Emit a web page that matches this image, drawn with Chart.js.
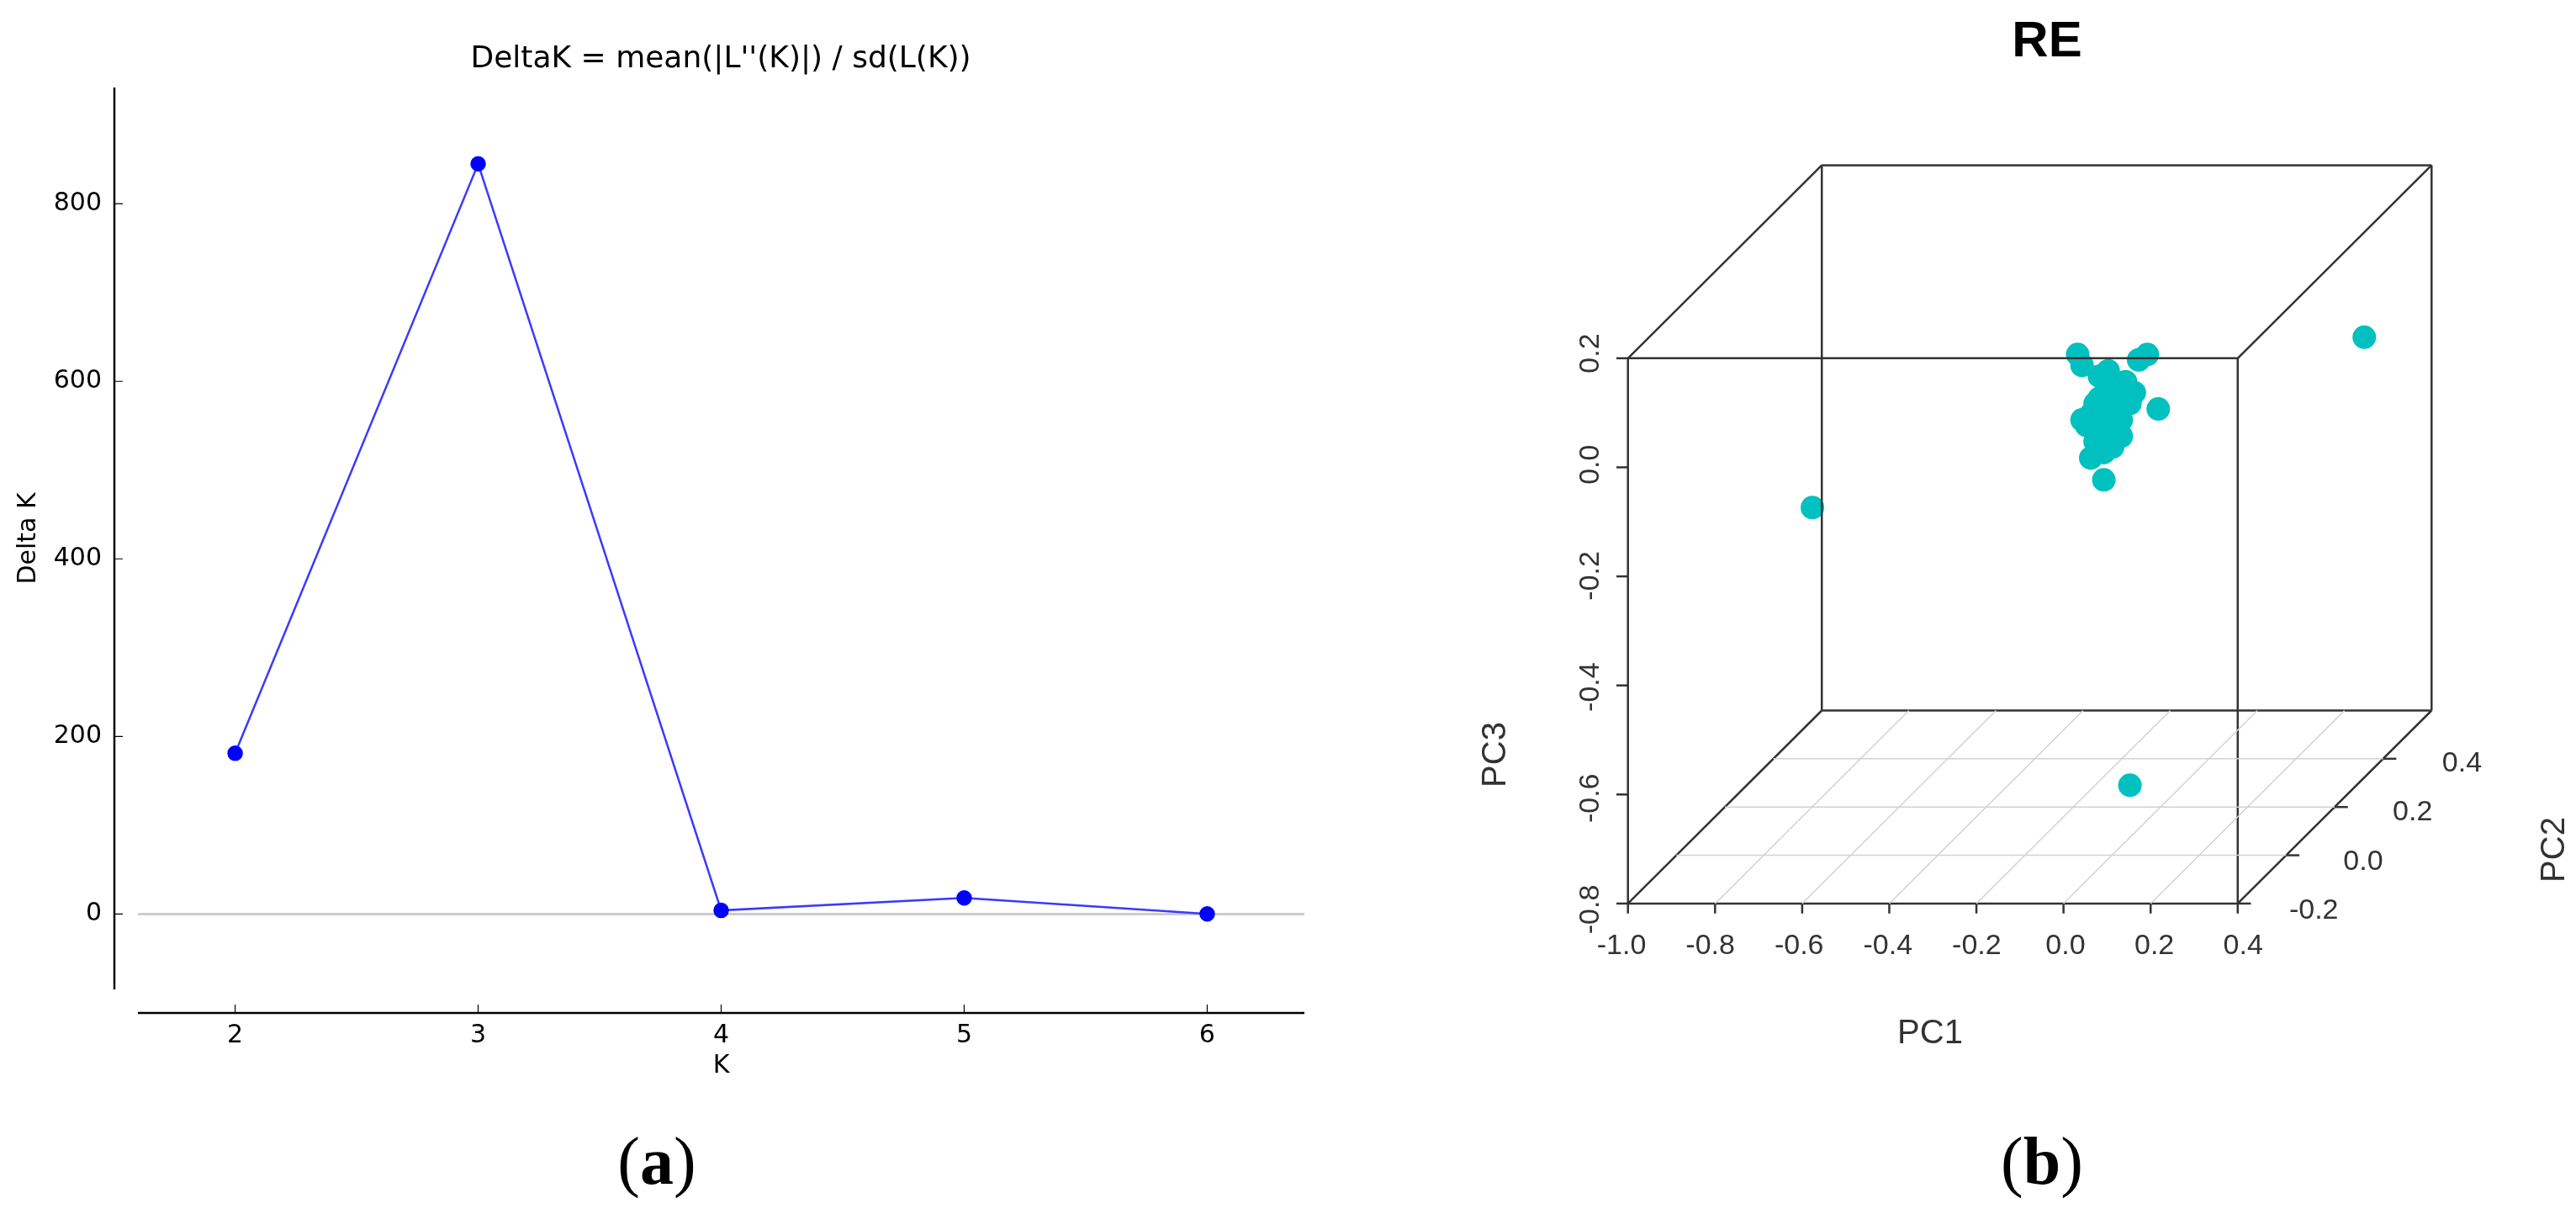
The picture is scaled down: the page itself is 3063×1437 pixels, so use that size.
<!DOCTYPE html>
<html>
<head>
<meta charset="utf-8">
<script src="https://cdn.jsdelivr.net/npm/chart.js@4.4.0/dist/chart.umd.min.js"></script>
<style>
  body { margin: 0; background: #fff; width: 3063px; height: 1437px; position: relative; overflow: hidden; }
  .box { position: absolute; }
  .cap { position: absolute; top: 1335px; width: 200px; text-align: center; line-height: 90px;
         font-family: "Liberation Serif", serif; font-size: 80px; }
</style>
</head>
<body>
<div class="box" style="left:0;top:0;width:1600px;height:1437px"><canvas id="deltaK"></canvas></div>
<div class="box" style="left:1600px;top:0;width:1463px;height:1437px"><canvas id="pca"></canvas></div>
<div class="cap" style="left:681px">(<b>a</b>)</div>
<div class="cap" style="left:2328px">(<b>b</b>)</div>
<script>
// ---- panel (a): Delta K ----
const kValues = [2, 3, 4, 5, 6];
const deltaK = [181, 845, 4, 18, 0];
const yTicks = [0, 200, 400, 600, 800];

// ---- panel (b): PCA, RE ----
const pc1 = [-0.71, 0.29, -0.07, -0.19, -0.18, -0.03, -0.05, -0.005, -0.13, -0.16, -0.12,
  -0.15, -0.10, -0.08, -0.13, -0.17, -0.11, -0.14, -0.09, -0.12, -0.16, -0.10, -0.13,
  -0.07, -0.15, -0.11, -0.18, -0.09, -0.14, -0.12, -0.06, -0.10];
const pc2 = [0.04, 0.52, 0.20, 0.20, 0.20, 0.20, 0.20, 0.20, 0.20, 0.20, 0.20,
  0.20, 0.20, 0.20, 0.20, 0.20, 0.20, 0.20, 0.20, 0.20, 0.20, 0.20, 0.20,
  0.20, 0.20, 0.20, 0.20, 0.20, 0.20, 0.20, 0.20, 0.20];
const pc3 = [-0.18, -0.08, -0.76, 0.03, 0.01, 0.03, 0.02, -0.07, -0.20, -0.16, -0.08,
  -0.06, -0.04, -0.02, -0.12, -0.10, -0.14, -0.05, -0.09, 0.00, -0.08, -0.11, -0.15,
  -0.06, -0.13, -0.03, -0.09, -0.12, -0.01, -0.10, -0.04, -0.07];
const pc1Ticks = [-1.0, -0.8, -0.6, -0.4, -0.2, 0.0, 0.2, 0.4];
const pc2Ticks = [-0.2, 0.0, 0.2, 0.4];
const pc3Ticks = [-0.8, -0.6, -0.4, -0.2, 0.0, 0.2];
const pc1Range = [-1.0, 0.4], pc2Range = [-0.2, 0.6], pc3Range = [-0.8, 0.2];

const FONT = '"DejaVu Sans", sans-serif';

// spines offset from the plot area (matplotlib style), title and axis names
const spines = {
  id: 'spines',
  afterDraw(chart) {
    const { ctx, chartArea: a, scales } = chart;
    const sy = a.left - 28, sx = a.bottom + 28;
    ctx.save();
    ctx.strokeStyle = '#000';
    ctx.lineWidth = 2.5;
    ctx.beginPath();
    ctx.moveTo(sy, a.top); ctx.lineTo(sy, a.bottom);
    ctx.moveTo(a.left, sx); ctx.lineTo(a.right, sx);
    ctx.stroke();
    ctx.lineWidth = 1.2;
    ctx.beginPath();
    kValues.forEach(k => { const x = scales.x.getPixelForValue(k); ctx.moveTo(x, sx); ctx.lineTo(x, sx - 10); });
    yTicks.forEach(v => { const y = scales.y.getPixelForValue(v); ctx.moveTo(sy, y); ctx.lineTo(sy + 10, y); });
    ctx.stroke();
    ctx.fillStyle = '#000';
    ctx.textAlign = 'center'; ctx.textBaseline = 'middle';
    ctx.font = '36px ' + FONT;
    ctx.fillText("DeltaK = mean(|L''(K)|) / sd(L(K))", 857, 71);
    ctx.font = '30px ' + FONT;
    ctx.fillText('K', scales.x.getPixelForValue(4), 1267);
    ctx.save(); ctx.translate(34, 640); ctx.rotate(-Math.PI / 2); ctx.fillText('Delta K', 0, 0); ctx.restore();
    ctx.restore();
  }
};

new Chart(document.getElementById('deltaK'), {
  type: 'line',
  data: {
    datasets: [{
      data: kValues.map((k, i) => ({ x: k, y: deltaK[i] })),
      borderColor: '#3a3aff',
      borderWidth: 2.5,
      pointBackgroundColor: '#0000ff',
      pointBorderColor: '#0000ff',
      pointRadius: 8,
      tension: 0
    }]
  },
  options: {
    responsive: true, maintainAspectRatio: false, animation: false,
    layout: { padding: { left: 0, right: 49, top: 104, bottom: 0 } },
    plugins: { legend: { display: false }, tooltip: { enabled: false } },
    scales: {
      x: {
        type: 'linear', min: 1.6, max: 6.4,
        afterBuildTicks: s => { s.ticks = kValues.map(v => ({ value: v })); },
        afterFit: s => { s.height = 261; },
        grid: { display: false, drawTicks: false }, border: { display: false },
        ticks: { font: { family: 'DejaVu Sans', size: 30 }, color: '#000', padding: 37 }
      },
      y: {
        min: -85, max: 931,
        afterBuildTicks: s => { s.ticks = yTicks.map(v => ({ value: v })); },
        afterFit: s => { s.width = 164; },
        grid: { color: c => c.tick.value === 0 ? '#cccccc' : 'transparent', lineWidth: 3, drawTicks: false },
        border: { display: false },
        ticks: { font: { family: 'DejaVu Sans', size: 30 }, color: '#000', padding: 43 }
      }
    }
  },
  plugins: [spines]
});

// ---- simple oblique projection for panel (b), canvas pixel coordinates ----
const P = { x0: 328, y0: 1081, sx: 528, sz: 661, dx: 235, dy: 234 };
function proj(a, b, c) {
  const f = (b - pc2Range[0]) / (pc2Range[1] - pc2Range[0]);
  return {
    x: P.x0 + (a - pc1Range[0]) * P.sx + f * P.dx,
    y: P.y0 - (c - pc3Range[0]) * P.sz - f * P.dy
  };
}
const seg = (p, q, color, w) => ({
  type: 'scatter', showLine: true, data: [p, q], borderColor: color, borderWidth: w,
  pointRadius: 0, fill: false
});

const [x0, x1] = pc1Range, [y0, y1] = pc2Range, [z0, z1] = pc3Range;
const ds = [];
// floor grid
pc1Ticks.slice(1, -1).forEach(v => ds.push(seg(proj(v, y0, z0), proj(v, y1, z0), '#d2d2d2', 1.5)));
pc2Ticks.slice(1).forEach(v => ds.push(seg(proj(x0, v, z0), proj(x1, v, z0), '#d2d2d2', 1.5)));
// box edges
const edges = [
  [[x0, y0, z0], [x1, y0, z0]], [[x0, y0, z1], [x1, y0, z1]], [[x0, y1, z0], [x1, y1, z0]], [[x0, y1, z1], [x1, y1, z1]],
  [[x0, y0, z0], [x0, y0, z1]], [[x1, y0, z0], [x1, y0, z1]], [[x0, y1, z0], [x0, y1, z1]], [[x1, y1, z0], [x1, y1, z1]],
  [[x0, y0, z0], [x0, y1, z0]], [[x1, y0, z0], [x1, y1, z0]], [[x0, y0, z1], [x0, y1, z1]], [[x1, y0, z1], [x1, y1, z1]]
];
edges.forEach(e => ds.push(seg(proj(...e[0]), proj(...e[1]), '#333', 2.5)));
// tick marks
pc1Ticks.forEach(v => { const p = proj(v, y0, z0); ds.push(seg(p, { x: p.x, y: p.y + 12 }, '#333', 2.5)); });
pc3Ticks.forEach(v => { const p = proj(x0, y0, v); ds.push(seg(p, { x: p.x - 14, y: p.y }, '#333', 2.5)); });
pc2Ticks.forEach(v => { const p = proj(x1, v, z0); ds.push(seg(p, { x: p.x + 16, y: p.y }, '#333', 2.5)); });
// points
ds.push({
  type: 'scatter', data: pc1.map((v, i) => proj(v, pc2[i], pc3[i])),
  backgroundColor: '#00c0c0', borderColor: '#00c0c0', pointRadius: 14, borderWidth: 0
});

const labels3d = {
  id: 'labels3d',
  afterDraw(chart) {
    const ctx = chart.ctx;
    ctx.save();
    ctx.fillStyle = '#333';
    ctx.font = '34px "Liberation Sans", Arial';
    ctx.textAlign = 'center'; ctx.textBaseline = 'middle';
    pc1Ticks.forEach(v => { const p = proj(v, y0, z0); ctx.fillText(v.toFixed(1), p.x, p.y + 44); });
    pc2Ticks.forEach(v => { const p = proj(x1, v, z0); ctx.fillText(v.toFixed(1), p.x + 84, p.y + 2); });
    pc3Ticks.forEach(v => {
      const p = proj(x0, y0, v);
      ctx.save(); ctx.translate(p.x - 36, p.y); ctx.rotate(-Math.PI / 2); ctx.fillText(v.toFixed(1), 0, 0); ctx.restore();
    });
    ctx.font = '40px "Liberation Sans", Arial';
    ctx.fillText('PC1', 695, 1229);
    [['PC3', 179, 897], ['PC2', 1438, 1010]].forEach(([t, x, y]) => {
      ctx.save(); ctx.translate(x, y); ctx.rotate(-Math.PI / 2); ctx.fillText(t, 0, 0); ctx.restore();
    });
    ctx.fillStyle = '#000';
    ctx.font = 'bold 60px "Liberation Sans", Arial';
    ctx.fillText('RE', 834, 50);
    ctx.restore();
  }
};

new Chart(document.getElementById('pca'), {
  type: 'scatter',
  data: { datasets: ds },
  options: {
    responsive: true, maintainAspectRatio: false, animation: false,
    layout: { padding: 0 },
    plugins: { legend: { display: false }, tooltip: { enabled: false } },
    scales: {
      x: { type: 'linear', min: 0, max: 1463, display: false },
      y: { type: 'linear', min: 0, max: 1437, reverse: true, display: false }
    }
  },
  plugins: [labels3d]
});
</script>
</body>
</html>
